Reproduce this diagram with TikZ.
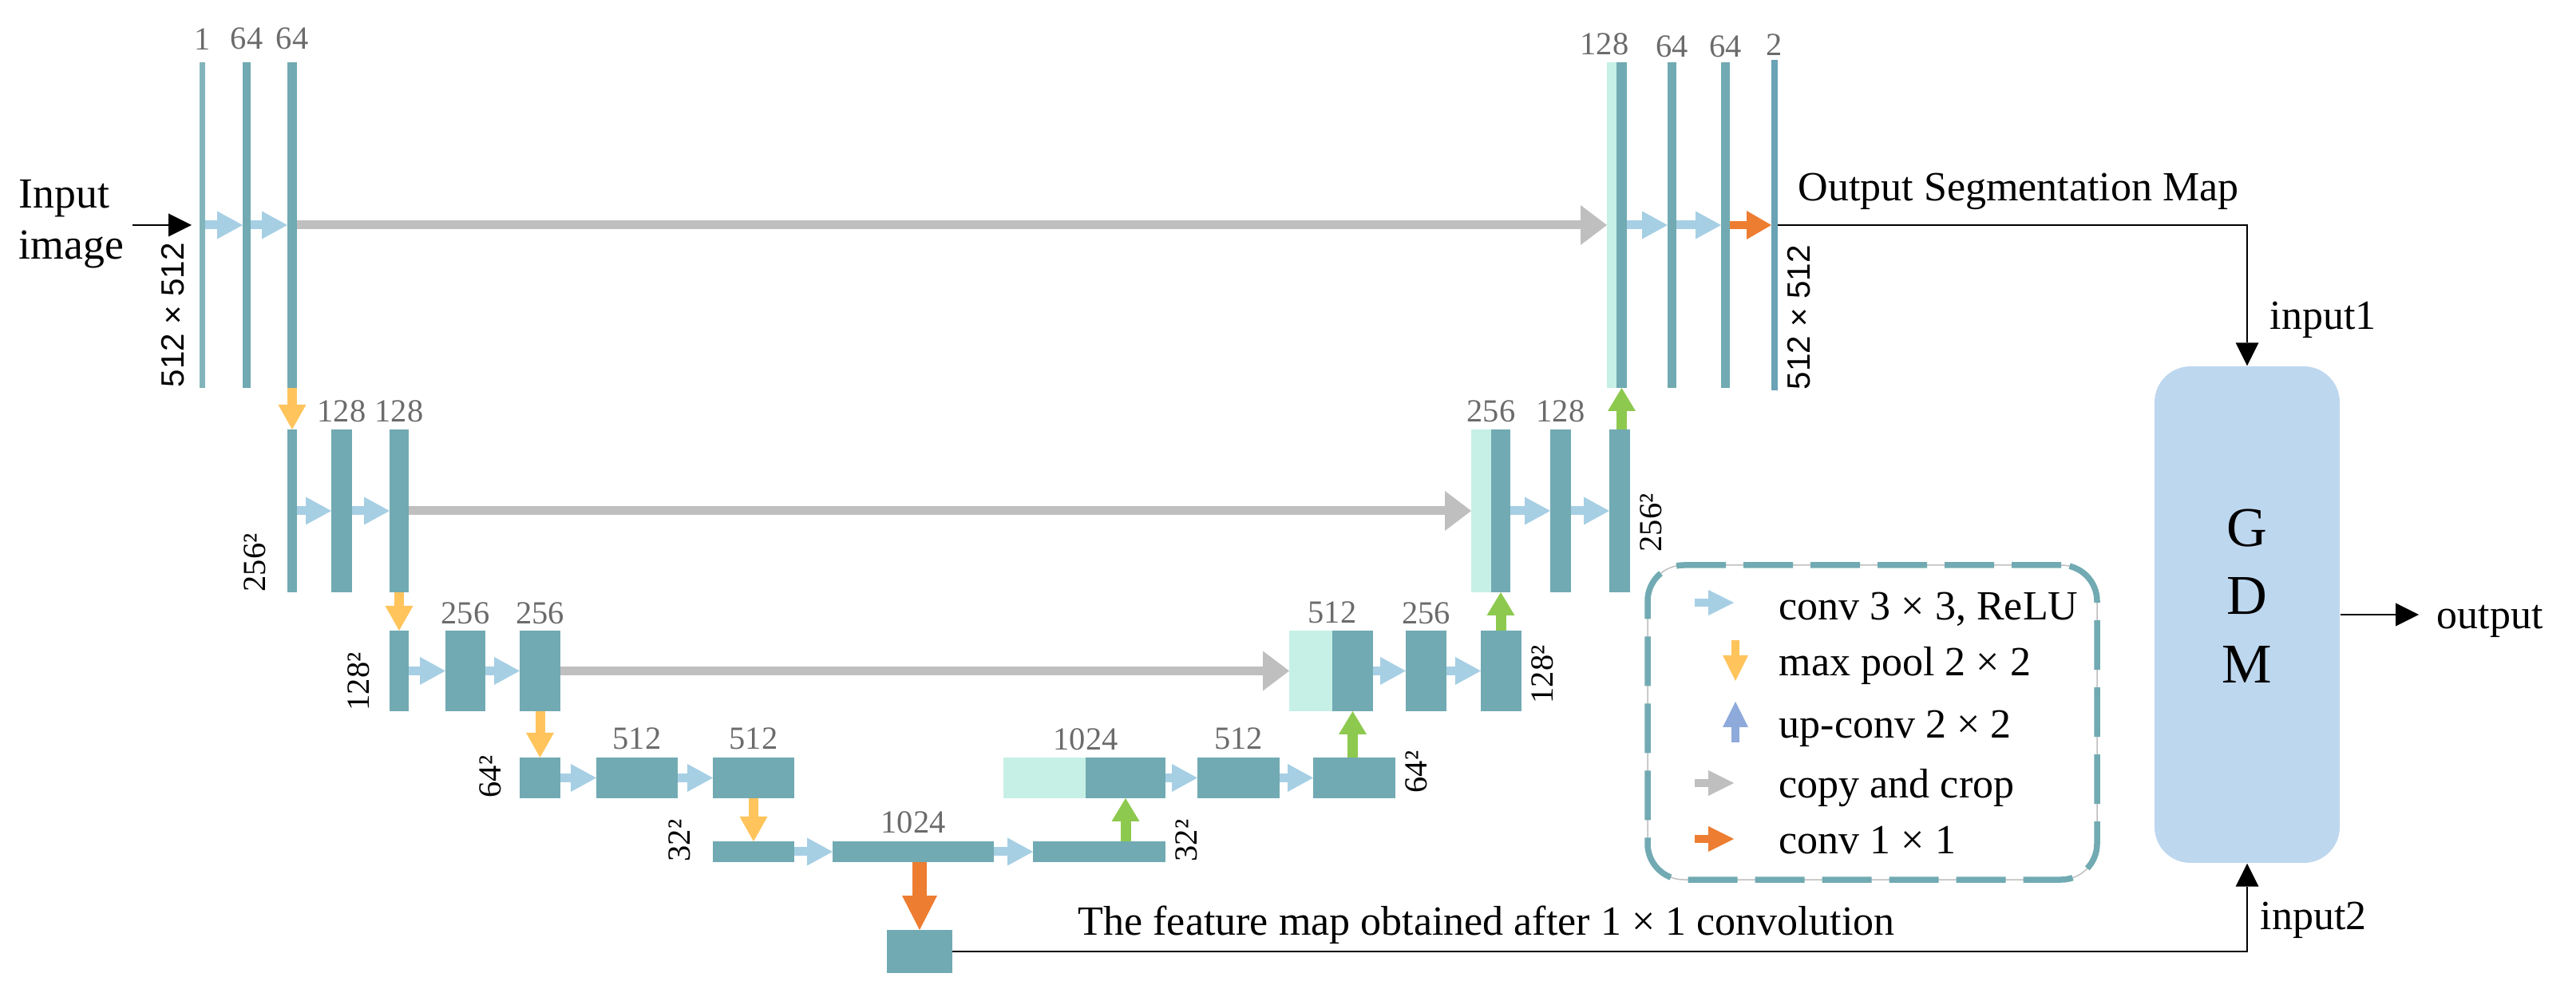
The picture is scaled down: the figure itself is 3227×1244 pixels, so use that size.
\documentclass[tikz,border=0pt]{standalone}
\usepackage{fontspec}
\setmainfont{Liberation Serif}
\setsansfont{Liberation Sans}
\usetikzlibrary{arrows.meta,positioning,fit}

\definecolor{barc}{HTML}{71AAB2}
\definecolor{copyfill}{HTML}{C6F0E6}
\definecolor{outc}{HTML}{6AA2B6}
\definecolor{convc}{HTML}{A6CFE4}
\definecolor{poolc}{HTML}{FFC45C}
\definecolor{upc}{HTML}{8DC94F}
\definecolor{upkey}{HTML}{8EAADB}
\definecolor{copyc}{HTML}{BFBFBF}
\definecolor{onec}{HTML}{ED7D31}
\definecolor{gdmc}{HTML}{BDD7EE}
\definecolor{dimc}{HTML}{6B6B6B}

\tikzset{
  fmap/.style={fill=barc, inner sep=0pt, outer sep=0pt},
  cmap/.style={fmap, fill=copyfill},
  dim/.style={text=dimc, inner sep=0pt, font=\fontsize{11.5}{13}\selectfont},
  sz/.style={rotate=90, inner sep=0pt, font=\fontsize{11.5}{13}\selectfont},
  txt/.style={inner sep=0pt, font=\fontsize{14.8}{17.8}\selectfont},
  conv/.style={draw=convc, line width=1.1mm, -{Triangle[length=3.2mm,width=3.5mm,line width=0pt]}},
  pool/.style={draw=poolc, line width=1.2mm, -{Triangle[length=3.1mm,width=3.5mm,line width=0pt]}},
  up/.style={draw=upc, line width=1.3mm, -{Triangle[length=2.9mm,width=3.5mm,line width=0pt]}},
  copy/.style={draw=copyc, line width=1.1mm, -{Triangle[length=3.3mm,width=5mm,line width=0pt]}},
  one/.style={draw=onec, line width=1mm, -{Triangle[length=3.1mm,width=3.6mm,line width=0pt]}},
  bigone/.style={draw=onec, line width=1.75mm, -{Triangle[length=4.3mm,width=4.4mm,line width=0pt]}},
  keytip/.style={line width=1mm, -{Triangle[length=3.2mm,width=3.2mm,line width=0pt]}},
  blk/.style={draw=black, line width=0.28mm, -{Triangle[length=2.9mm,width=2.9mm,line width=0pt]}},
  legbox/.style={draw=barc, line width=0.75mm, dash pattern=on 6.2mm off 2.2mm,
    rounded corners=4.5mm, inner sep=0pt, preaction={draw=black!25, line width=0.15mm, solid}},
  gdm/.style={fill=gdmc, rounded corners=4.5mm, inner sep=0pt, align=center,
    font=\fontsize{20}{24.2}\selectfont}
}

\begin{document}
\begin{tikzpicture}[x=0.1mm, y=-0.1mm]
\useasboundingbox (0,0) rectangle (3227,1244);

% feature maps, contracting side
\foreach \nm/\xa/\xb/\ya/\yb in {a2/304/314/78/486, a3/360/372/78/486,
    b1/360/372/538/742, b2/415/441/538/742, b3/488/512/538/742,
    c1/488/512/790/891, c2/558/608/790/891, c3/651/702/790/891,
    d1/651/702/949/1000, d2/747/849/949/1000, d3/893/995/949/1000,
    e1/893/995/1054/1080, e2/1043/1245/1054/1080, e3/1294/1460/1054/1080}
  \node[fmap, fit={(\xa,\ya) (\xb,\yb)}] (\nm) {};
\node[fmap, fill=barc!88, fit={(250,78) (257,486)}] (a1) {};

% expanding side: copied half + own half
\foreach \nm/\xa/\xb/\ya/\yb in {x1c/1257/1360/949/1000, w1c/1615/1669/790/891,
    v1c/1843/1868/538/742, u1c/2013/2025/78/486}
  \node[cmap, fit={(\xa,\ya) (\xb,\yb)}] (\nm) {};
\foreach \nm/\xa/\xb/\ya/\yb in {x1/1360/1460/949/1000, x2/1500/1603/949/1000, x3/1645/1748/949/1000,
    w1/1669/1720/790/891, w2/1761/1812/790/891, w3/1855/1906/790/891,
    v1/1868/1892/538/742, v2/1942/1968/538/742, v3/2016/2042/538/742,
    u1/2025/2038/78/486, u2/2089/2100/78/486, u3/2156/2167/78/486}
  \node[fmap, fit={(\xa,\ya) (\xb,\yb)}] (\nm) {};
\node[fmap, fill=outc, fit={(2219,75) (2227,489)}] (u4) {};
\node[fmap, fit={(1111,1165) (1193,1219)}] (f) {};

% channel numbers
\foreach \nm/\lab/\gap in {a1/1/1.5, a2/64/1.5, a3/64/1.5, b2/128/0.8, b3/128/0.8,
    c2/256/0.7, c3/256/0.7, d2/512/0.9, d3/512/0.9, e2/1024/0.9,
    x2/512/0.9, w2/256/0.7, v2/128/0.8, u2/64/0.5, u3/64/0.5, u4/2/0.5}
  \node[dim, above=\gap mm of \nm] (l\nm) {\lab};
\foreach \nm/\lab/\sh in {x1/1024/0, w1/512/0, v1/256/0, u1/128/-1.5}
  \node[dim, above=0.8mm of \nm.north west, xshift=\sh mm] (l\nm) {\lab};

% sizes
\foreach \nm/\lab/\gap in {a1/{\sffamily 512 × 512}/1.8, b1/256²/2.6, c1/128²/2.4, d1/64²/2.2, e1/32²/2.7}
  \node[sz, anchor=south west] (s\nm) at ([xshift=-\gap mm]\nm.south west) {\lab};
\foreach \nm/\lab/\up in {u4/{\sffamily 512 × 512}/0, v3/256²/5, w3/128²/0.9, x3/64²/0.6, e3/32²/0}
  \node[sz, anchor=north west] (s\nm) at ([xshift=1.2mm, yshift=\up mm]\nm.south east) {\lab};

% operations
\foreach \src/\dst in {a1/a2, a2/a3, b1/b2, b2/b3, c1/c2, c2/c3, d1/d2, d2/d3, e1/e2, e2/e3,
    x1/x2, x2/x3, w1/w2, w2/w3, v1/v2, v2/v3, u1/u2, u2/u3}
  \draw[conv] (\src.east) -- (\dst.west);
\foreach \src/\dst in {a3/b1, b3/c1, c3/d1, d3/e1}
  \draw[pool] (\src.south) -- (\dst.north);
\foreach \src/\dst in {e3/x1, x3/w1, w3/v1, v3/u1}
  \draw[up] (\dst.south |- \src.north) -- (\dst.south);
\foreach \src/\dst in {a3/u1c, b3/v1c, c3/w1c}
  \draw[copy] (\src.east) -- (\dst.west);
\draw[one] (u3.east) -- (u4.west);
\draw[bigone] (f.north |- e2.south) -- (f.north);

% input / output
\node[txt, align=left, anchor=west, font=\fontsize{15.3}{18.2}\selectfont] (in) at (23,281) {Input\\image};
\draw[blk, shorten <=1mm, shorten >=1mm] (in.east |- a1.west) -- (a1.west);

\node[gdm, fit={(2699,459) (2931,1081)}] (gdm) {G\\D\\M};
\node[txt, anchor=base west] (seg) at (2252,252) {Output Segmentation Map};
\draw[blk] (u4.east) -| (gdm.north);
\node[txt, anchor=base west] (in1) at (2843,413) {input1};
\node[txt, anchor=base west] (fmtxt) at (1350,1171) {The feature map obtained after 1 × 1 convolution};
\draw[blk] (f.east) -| (gdm.south);
\node[txt, anchor=base west] (in2) at (2831,1164) {input2};
\node[txt, anchor=base west] (out) at (3052,788) {output};
\draw[blk, shorten >=2.2mm] (gdm.east) -- (gdm.east -| out.west);

% legend
\node[legbox, fit={(2064,708) (2627,1102)}] (leg) {};
\foreach \y/\lab [count=\i] in {777/{conv 3 × 3, ReLU}, 847/{max pool 2 × 2}, 925/{up-conv 2 × 2},
    1000/{copy and crop}, 1070/{conv 1 × 1}}
  \node[txt, anchor=base west] (key\i) at (2228,\y) {\lab};
\draw[conv, keytip] (2123,755) -- (2172,755);
\draw[pool, keytip] (2174,802) -- (2174,853);
\draw[up, draw=upkey, keytip] (2174,930) -- (2174,879);
\draw[copy, keytip] (2123,981) -- (2172,981);
\draw[one, keytip] (2123,1051) -- (2172,1051);

\end{tikzpicture}
\end{document}
